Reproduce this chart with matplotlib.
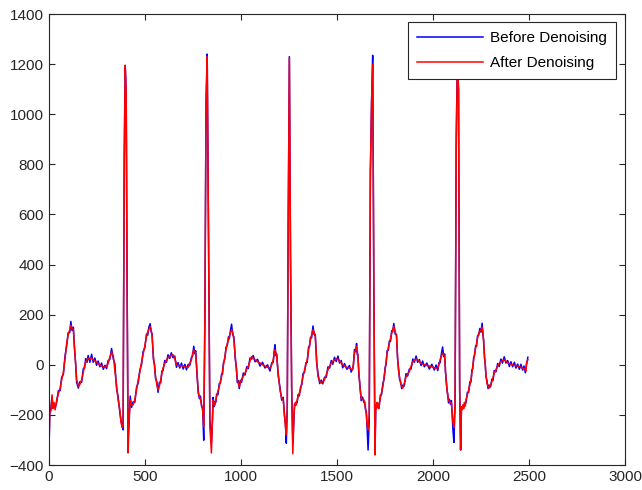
import numpy as np
import matplotlib
matplotlib.use('Agg')
import matplotlib.pyplot as plt

plt.rcParams['font.family'] = ['Liberation Sans', 'DejaVu Sans']

# sample index of each point
samples = [
    0, 4, 10, 16, 20, 26, 32, 40, 49, 58,
    66, 75, 83, 92, 100, 108, 114, 120, 127, 132,
    139, 144, 153, 160, 170, 179, 186, 191, 198, 204,
    213, 222, 230, 239, 248, 256, 265, 274, 283, 291,
    300, 308, 317, 326, 335, 343, 352, 360, 369, 375,
    381, 386, 392, 397, 402, 407, 412, 418, 423, 430,
    438, 447, 456, 465, 473, 482, 490, 499, 508, 514,
    520, 527, 532, 537, 544, 550, 555, 562, 568, 575,
    582, 588, 594, 603, 612, 620, 629, 637, 646, 655,
    664, 672, 681, 690, 699, 708, 716, 725, 733, 742,
    748, 754, 760, 764, 771, 777, 783, 789, 795, 800,
    806, 812, 818, 824, 830, 838, 846, 852, 855, 860,
    864, 869, 873, 880, 887, 893, 899, 904, 908, 916,
    922, 929, 935, 939, 945, 951, 957, 963, 970, 976,
    981, 986, 991, 997, 1003, 1012, 1021, 1030, 1038, 1047,
    1055, 1064, 1073, 1086, 1099, 1112, 1125, 1138, 1151, 1160,
    1168, 1173, 1177, 1182, 1186, 1194, 1203, 1212, 1220, 1226,
    1232, 1236, 1241, 1246, 1252, 1258, 1264, 1270, 1276, 1279,
    1284, 1288, 1293, 1297, 1304, 1310, 1317, 1323, 1331, 1338,
    1345, 1352, 1357, 1362, 1368, 1375, 1381, 1387, 1394, 1401,
    1410, 1418, 1426, 1435, 1444, 1453, 1462, 1470, 1478, 1487,
    1496, 1505, 1513, 1522, 1530, 1539, 1552, 1565, 1574, 1582,
    1586, 1591, 1597, 1602, 1606, 1609, 1614, 1619, 1626, 1633,
    1640, 1644, 1648, 1653, 1657, 1662, 1668, 1674, 1680, 1686,
    1692, 1698, 1702, 1706, 1709, 1712, 1715, 1718, 1721, 1726,
    1732, 1739, 1745, 1751, 1756, 1761, 1767, 1773, 1779, 1785,
    1790, 1796, 1803, 1810, 1815, 1820, 1826, 1831, 1837, 1843,
    1850, 1860, 1868, 1877, 1886, 1895, 1903, 1912, 1920, 1929,
    1938, 1946, 1955, 1968, 1981, 1994, 2007, 2016, 2025, 2031,
    2037, 2044, 2050, 2056, 2061, 2065, 2068, 2073, 2077, 2081,
    2085, 2091, 2096, 2100, 2104, 2109, 2115, 2121, 2127, 2133,
    2139, 2144, 2148, 2152, 2156, 2160, 2164, 2168, 2172, 2179,
    2186, 2192, 2198, 2203, 2207, 2212, 2217, 2222, 2227, 2232,
    2238, 2244, 2250, 2256, 2260, 2264, 2268, 2272, 2276, 2281,
    2287, 2293, 2300, 2307, 2313, 2319, 2328, 2337, 2345, 2354,
    2362, 2371, 2380, 2389, 2398, 2406, 2415, 2424, 2432, 2441,
    2450, 2458, 2467, 2474, 2481, 2484, 2487, 2494,
]

# denoised trace (red)
after = [
    -330, -190, -185, -120, -175, -150, -180, -140, -115, -95,
    -60, -30, 20, 85, 120, 140, 158, 145, 140, 80,
    -5, -60, -85, -80, -60, -30, 0, 10, 20, 25,
    22, 27, 20, 15, 10, 5, 0, -5, -8, -10,
    -5, 5, 30, 50, 35, -20, -85, -140, -180, -230,
    -250, -245, 820, 1195, 1090, 300, -352, -200, -140, -160,
    -160, -140, -100, -60, -30, 10, 40, 75, 113, 130,
    140, 152, 140, 113, 33, -10, -47, -80, -100, -85,
    -60, -35, -13, 5, 20, 28, 33, 38, 40, 25,
    0, -3, -5, -3, -5, -8, -10, -10, 5, 20,
    45, 59, 52, 46, -30, -113, -125, -140, -160, -180,
    -246, 180, 1040, 1230, 590, -240, -352, -200, -140, -155,
    -160, -140, -127, -105, -87, -65, -47, -25, -5, 33,
    60, 86, 100, 113, 128, 140, 130, 100, 33, -20,
    -60, -75, -87, -72, -60, -45, -33, -18, -5, 15,
    33, 25, 20, 12, 7, 0, -5, -10, -13, 0,
    20, 45, 60, 45, 33, -33, -100, -133, -140, -190,
    -250, -280, -180, 560, 1225, 420, -100, -355, -200, -167,
    -150, -160, -140, -127, -112, -100, -70, -47, -20, 0,
    20, 59, 80, 100, 120, 140, 130, 113, 20, -47,
    -65, -73, -68, -60, -40, -20, -5, 7, 14, 20,
    23, 23, 15, 7, 0, -5, -10, -13, -17, -20,
    10, 46, 60, 73, 50, 33, -30, -87, -133, -137,
    -140, -155, -167, -200, -240, -260, -200, 770, 1045, 1200,
    300, -360, -160, -175, -150, -170, -155, -175, -150, -133,
    -110, -87, -50, -20, 15, 46, 66, 86, 106, 126,
    140, 153, 133, 113, 40, -20, -50, -73, -85, -93,
    -75, -47, -37, -27, -5, 13, 18, 23, 20, 13,
    7, 3, 0, -3, -5, -8, -13, -13, -13, 0,
    20, 35, 46, 40, 33, -20, -60, -95, -127, -140,
    -147, -150, -153, -190, -230, -250, -150, 850, 1220, 1100,
    -100, -340, -167, -180, -160, -175, -150, -165, -140, -120,
    -100, -80, -60, -30, -5, 20, 46, 66, 86, 106,
    126, 133, 140, 150, 130, 86, 40, -5, -40, -73,
    -85, -93, -80, -67, -50, -33, -20, -5, 5, 13,
    17, 20, 15, 7, 5, 2, 0, -2, -3, -5,
    -8, -10, -13, -15, -20, -25, 7, 20,
]

# raw trace (blue), read as its difference from the red trace
noise = [
    -15, -5, 12, -8, 10, -12, 8, -10, 12, -8,
    10, -8, 12, -10, 8, -12, 15, -8, 10, -6,
    8, -10, -8, 12, -10, 15, -12, 15, -10, 12,
    -12, 15, -10, 12, -12, 10, -8, 12, -10, 8,
    -10, 12, -8, 15, -12, 25, -10, 12, -10, 8,
    10, -15, 0, 0, 0, 0, 50, -20, 15, -10,
    12, -10, 10, -12, 8, -10, 12, -8, 10, -12,
    10, 12, -8, 10, -12, 10, -8, 12, -10, 15,
    -12, 10, -10, 12, -10, 12, -8, 10, -12, 10,
    -10, 12, -8, 10, -12, 10, -10, 12, -8, 10,
    -10, 15, -8, 10, -10, 12, -10, 15, -8, 10,
    -55, 0, 5, 10, 0, 20, 40, -10, 10, -12,
    12, -10, 10, -15, 12, -8, 10, -12, 10, -8,
    10, -8, 12, -10, 8, 22, -10, 12, -8, 10,
    -10, 12, -8, 10, -10, 12, -8, 10, -10, 12,
    -10, 12, -8, 10, -12, 10, -8, 10, -12, 8,
    -10, 10, 20, -8, 10, -12, 10, -8, 10, -12,
    10, -33, 15, 5, 5, 0, 10, 40, -10, 10,
    -12, 10, -10, 8, -12, 10, -8, 12, -10, 8,
    -10, 12, -8, 10, -12, 15, -10, 8, -10, 12,
    -10, 12, -8, 10, -10, 12, -8, 10, -12, 10,
    -10, 12, -8, 10, -12, 10, -8, 10, -12, 8,
    -10, 15, -8, 12, -10, 8, -10, 12, -10, 8,
    -10, 8, -10, 12, -15, -80, -20, 0, 0, 35,
    0, 20, -10, 8, -10, 12, -8, 10, -10, 12,
    -10, 12, -8, 10, -12, 10, -8, 10, -12, 10,
    -8, 12, -10, 8, -10, 12, -10, 8, -10, 12,
    -10, 12, -8, 10, -12, 10, -8, 12, -10, 8,
    -10, 12, -8, 10, -12, 10, -8, 12, -10, 8,
    -12, 10, 25, -8, 10, -10, 12, -8, 10, -12,
    10, -8, 10, -12, -30, -60, -10, 60, 0, 0,
    0, 0, -12, 10, -10, 12, -8, 10, -12, 10,
    -10, 12, -8, 10, -12, 10, -8, 10, -12, 10,
    -8, 12, -10, 16, -8, 10, -12, 10, -8, 10,
    -10, 12, -8, 10, -12, 10, -8, 10, -12, 10,
    -10, 12, -8, 10, -12, 10, -8, 12, -10, 8,
    -10, 12, -8, 10, -12, 10, -8, 10,
]

x = np.array(samples)
after = np.array(after)
before = after + np.array(noise)

fig = plt.figure(figsize=(6.42, 4.90), dpi=100)
ax = fig.add_axes([0.0763, 0.051, 0.8972, 0.9204])

ax.plot(x, before, color='#0000ff', linewidth=1.1, label='Before Denoising')
ax.plot(x, after, color='#ff0000', linewidth=1.1, label='After Denoising')

ax.set_xlim(0, 3000)
ax.set_ylim(-400, 1400)
ax.set_xticks(np.arange(0, 3001, 500))
ax.set_yticks(np.arange(-400, 1401, 200))
ax.tick_params(direction='in', top=True, right=True, length=4,
               labelsize=11, colors='#262626', width=0.8)
for sp in ax.spines.values():
    sp.set_color('#262626')
    sp.set_linewidth(0.8)

leg = ax.legend(loc='upper right', bbox_to_anchor=(0.985, 0.983), fontsize=11,
                fancybox=False, framealpha=1, edgecolor='#262626',
                handlelength=4.3, borderpad=0.6, labelspacing=0.75,
                handletextpad=0.5, borderaxespad=0)
leg.get_frame().set_linewidth(0.8)

plt.savefig('out.png', dpi=100)
